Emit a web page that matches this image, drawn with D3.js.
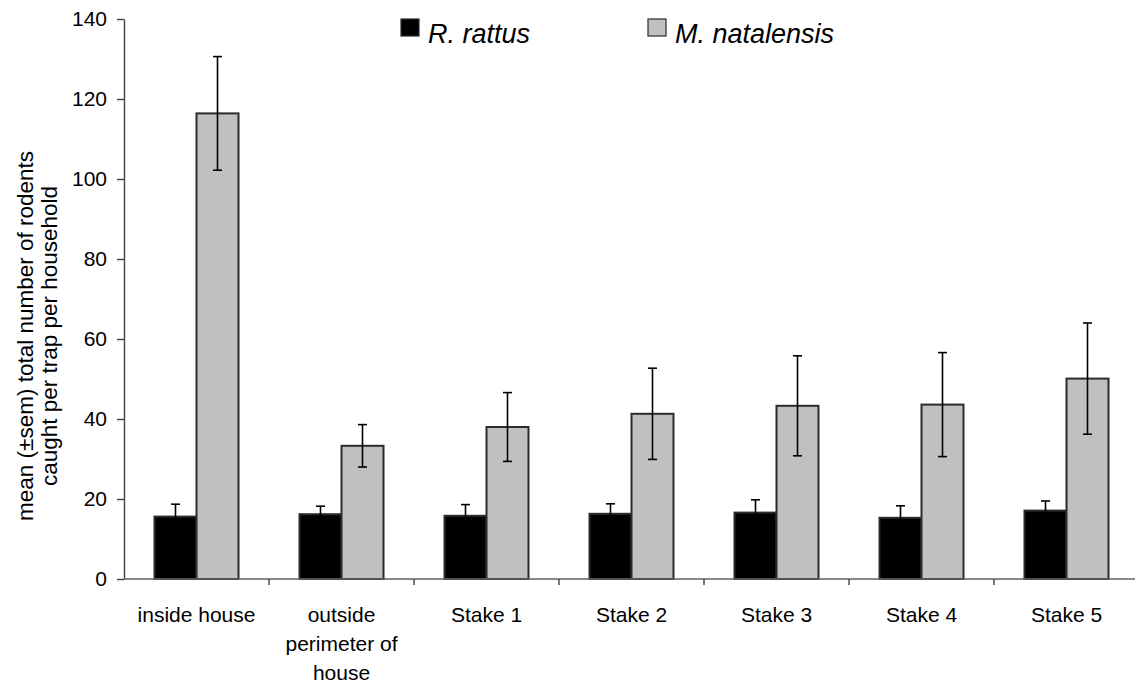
<!DOCTYPE html>
<html>
<head>
<meta charset="utf-8">
<script src="https://cdn.jsdelivr.net/npm/d3@7"></script>
<style>
  html, body { margin: 0; padding: 0; background: #fff; }
  svg { display: block; font-family: "Liberation Sans", Arial, sans-serif; }
</style>
</head>
<body>
<svg id="chart" width="1135" height="684"></svg>
<script>
// Rodent captures per trap per household, by trap location
const categories = [
  ["inside house"],
  ["outside", "perimeter of", "house"],
  ["Stake 1"], ["Stake 2"], ["Stake 3"], ["Stake 4"], ["Stake 5"]
];
const seriesNames = ["R. rattus", "M. natalensis"];
const rattusMean   = [15.6, 16.2, 15.8, 16.3, 16.6, 15.3, 17.1];
const rattusSem    = [3.1, 2.0, 2.8, 2.5, 3.2, 3.0, 2.4];
const natalMean    = [116.4, 33.3, 38.0, 41.3, 43.3, 43.6, 50.1];
const natalSem     = [14.2, 5.3, 8.6, 11.4, 12.5, 13.0, 13.9];
const yTicks = [0, 20, 40, 60, 80, 100, 120, 140];
const yLabelLines = ["mean (\u00b1sem) total number of rodents", "caught per trap per household"];

const fills = ["#000000", "#c0c0c0"];
const means = [rattusMean, natalMean];
const sems = [rattusSem, natalSem];

const svg = d3.select("#chart");
const plotLeft = 124, plotRight = 1139, plotTop = 19, plotBottom = 579;
const catKeys = categories.map((c, i) => i);

const y = d3.scaleLinear().domain([0, 140]).range([plotBottom, plotTop]);
const x0 = d3.scaleBand().domain(catKeys).range([plotLeft, plotRight]).padding(0);
const x1 = d3.scaleBand().domain(seriesNames)
  .range([x0.bandwidth() / 2 - 42, x0.bandwidth() / 2 + 42]).padding(0);

// bars
const groups = svg.append("g").selectAll("g")
  .data(catKeys).join("g")
  .attr("transform", i => `translate(${x0(i)},0)`);

groups.selectAll("rect")
  .data(i => seriesNames.map((s, k) => ({ s, k, v: means[k][i], e: sems[k][i] })))
  .join("rect")
  .attr("x", d => x1(d.s))
  .attr("y", d => y(d.v))
  .attr("width", x1.bandwidth())
  .attr("height", d => y(0) - y(d.v))
  .attr("fill", d => fills[d.k])
  .attr("stroke", "#2b2b2b")
  .attr("stroke-width", 2);

// error bars (±sem)
const errs = groups.selectAll("g.err")
  .data(i => seriesNames.map((s, k) => ({ s, k, v: means[k][i], e: sems[k][i] })))
  .join("g").attr("class", "err")
  .attr("transform", d => `translate(${x1(d.s) + x1.bandwidth() / 2},0)`)
  .attr("stroke", "#000").attr("stroke-width", 1.6);
errs.append("line").attr("x1", 0).attr("x2", 0)
  .attr("y1", d => y(d.v + d.e)).attr("y2", d => y(d.v - d.e));
errs.append("line").attr("x1", -4.5).attr("x2", 4.5)
  .attr("y1", d => y(d.v + d.e)).attr("y2", d => y(d.v + d.e));
errs.append("line").attr("x1", -4.5).attr("x2", 4.5)
  .attr("y1", d => y(d.v - d.e)).attr("y2", d => y(d.v - d.e));

// y axis
const yAxis = svg.append("g")
  .attr("transform", `translate(${plotLeft},0)`)
  .call(d3.axisLeft(y).tickValues(yTicks).tickSize(7).tickSizeOuter(0).tickPadding(10));
yAxis.select(".domain").attr("stroke", "#404040").attr("stroke-width", 1.4);
yAxis.selectAll(".tick line").attr("stroke", "#404040").attr("stroke-width", 1.4);
yAxis.selectAll(".tick text").attr("font-size", 21).attr("fill", "#000")
  .attr("font-family", "'Liberation Sans', Arial, sans-serif");

// x axis line and boundary ticks
const xAxis = svg.append("g");
xAxis.append("line")
  .attr("x1", plotLeft).attr("x2", plotRight)
  .attr("y1", y(0)).attr("y2", y(0))
  .attr("stroke", "#606060").attr("stroke-width", 1.4);
const bounds = catKeys.map(i => x0(i)).concat([plotRight]).slice(1);
xAxis.selectAll("line.tk").data(bounds).join("line").attr("class", "tk")
  .attr("x1", d => d).attr("x2", d => d)
  .attr("y1", y(0)).attr("y2", y(0) + 6)
  .attr("stroke", "#404040").attr("stroke-width", 1.4);

// category labels
const labels = svg.append("g").selectAll("text")
  .data(catKeys).join("text")
  .attr("x", i => x0(i) + x0.bandwidth() / 2)
  .attr("y", 622)
  .attr("text-anchor", "middle")
  .attr("font-size", 21)
  .attr("fill", "#000");
labels.selectAll("tspan")
  .data(i => categories[i])
  .join("tspan")
  .attr("x", function () { return this.parentNode.getAttribute("x"); })
  .attr("dy", (d, j) => j === 0 ? 0 : 29)
  .text(d => d);

// y axis title
const yTitle = svg.append("text")
  .attr("transform", "translate(33,336) rotate(-90)")
  .attr("text-anchor", "middle")
  .attr("font-size", 22.5)
  .attr("fill", "#000");
yTitle.selectAll("tspan").data(yLabelLines).join("tspan")
  .attr("x", 0).attr("dy", (d, j) => j === 0 ? 0 : 24)
  .text(d => d);

// legend
const legendX = [401, 648];
const legend = svg.append("g").selectAll("g")
  .data(seriesNames).join("g")
  .attr("transform", (d, k) => `translate(${legendX[k]},19)`);
legend.append("rect")
  .attr("width", 18).attr("height", 17)
  .attr("fill", (d, k) => fills[k])
  .attr("stroke", "#2b2b2b").attr("stroke-width", 1.2);
legend.append("text")
  .attr("x", 27).attr("y", 24)
  .attr("font-size", 27)
  .attr("font-style", "italic")
  .attr("fill", "#000")
  .text(d => d);
</script>
</body>
</html>
